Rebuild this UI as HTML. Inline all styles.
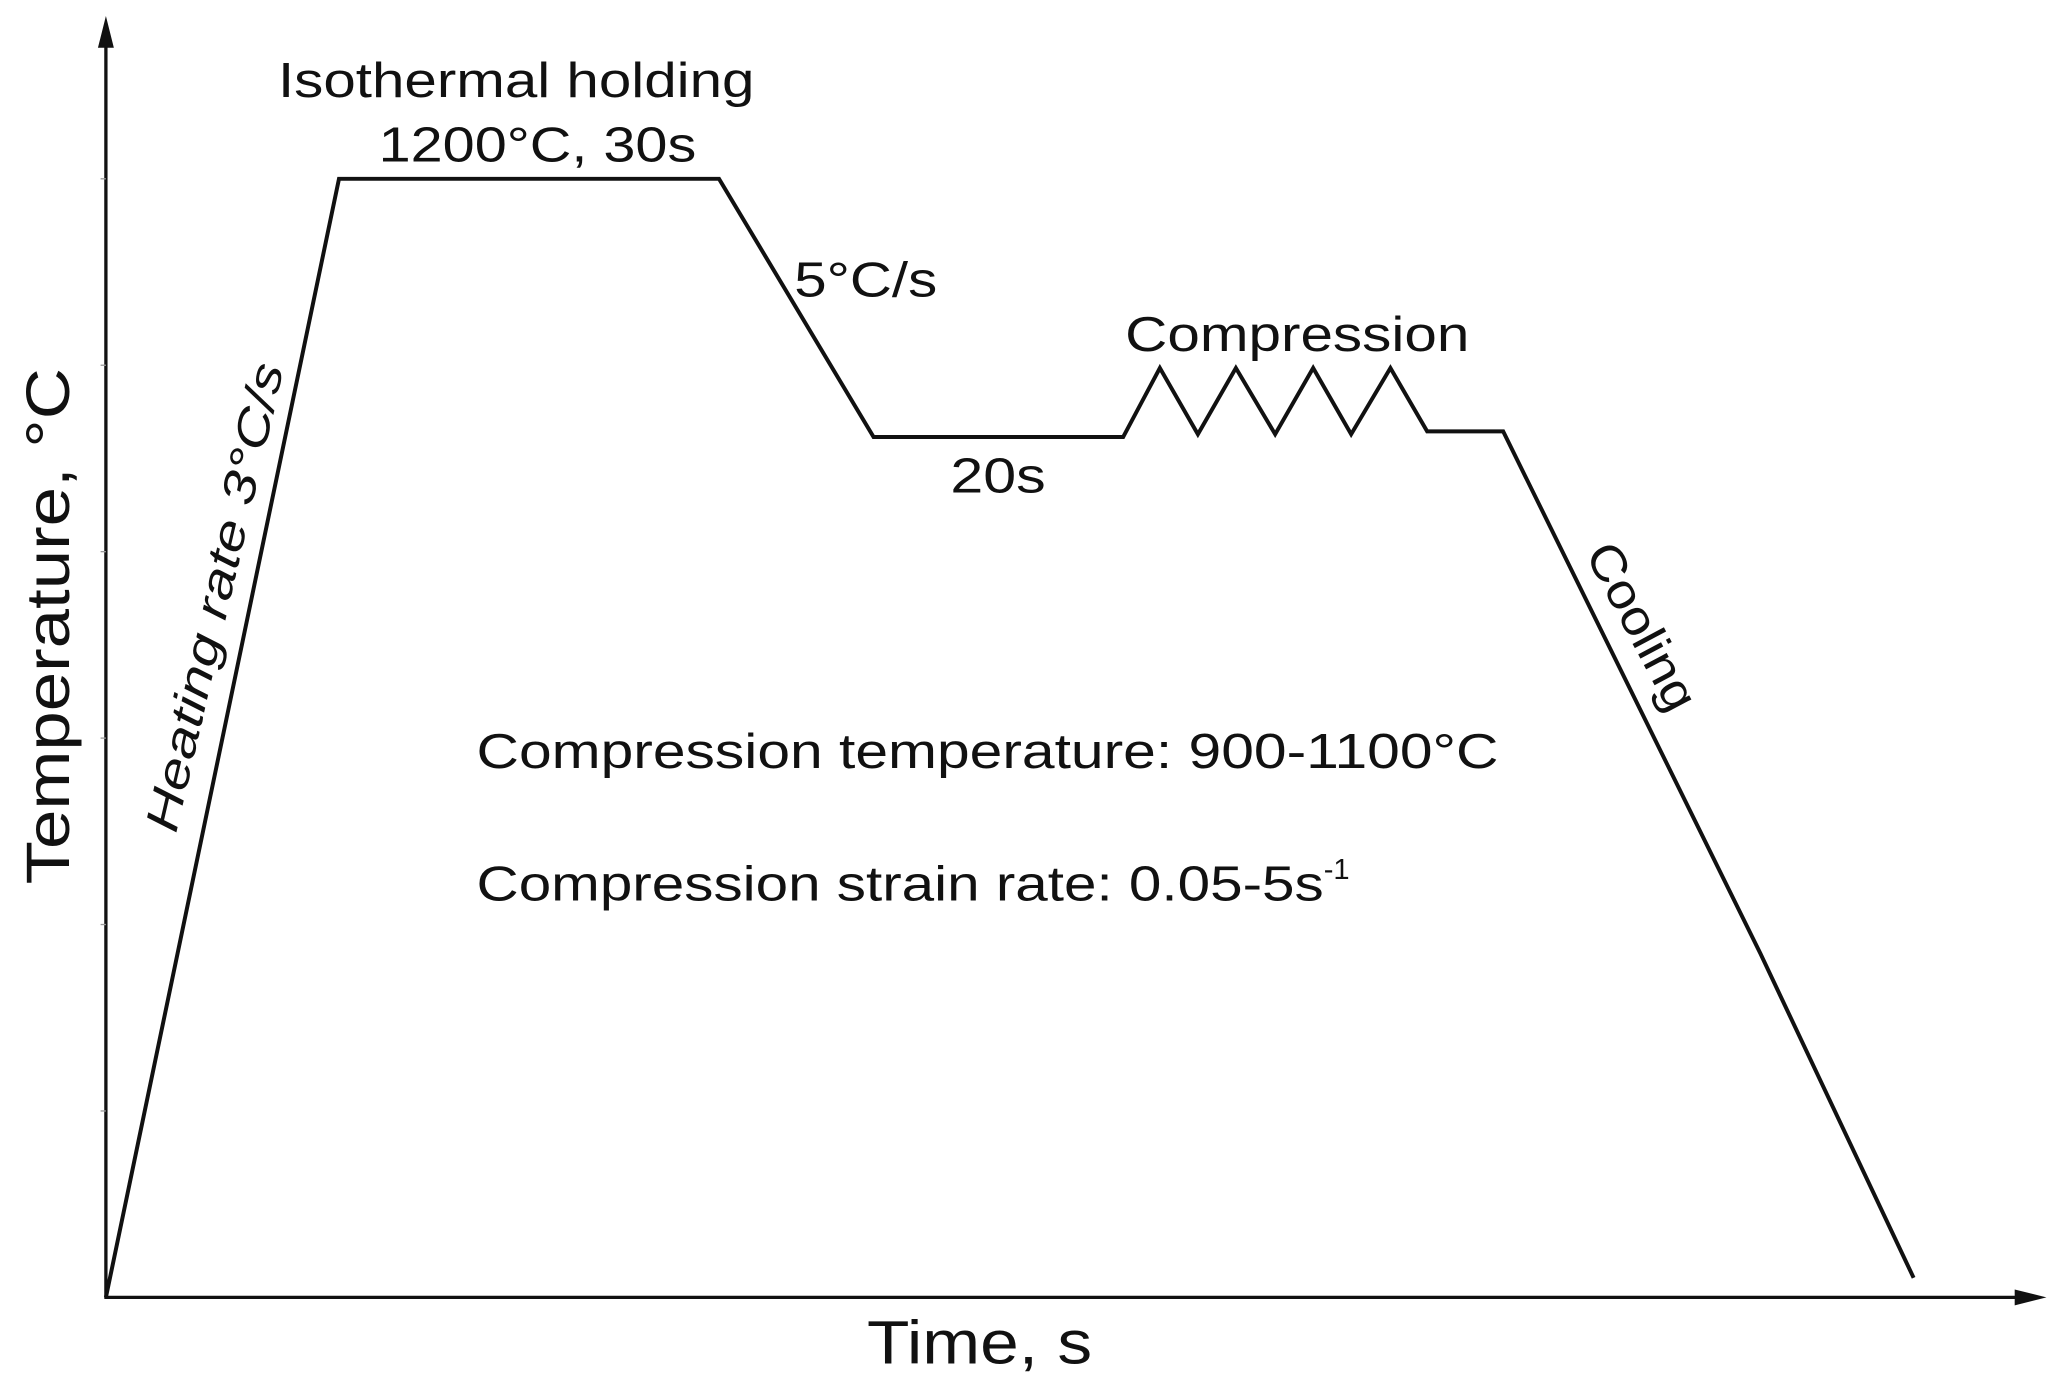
<!DOCTYPE html>
<html><head><meta charset="utf-8"><style>
html,body{margin:0;padding:0;background:#fff;}
svg{display:block;}
text{font-family:"Liberation Sans",Arial,sans-serif;fill:#111;}
</style></head><body>
<svg id="chart" width="2065" height="1373" viewBox="0 0 1560 1037" xmlns="http://www.w3.org/2000/svg">
<g id="axes">
<line x1="80" y1="981" x2="80" y2="30" stroke="#111" stroke-width="2.5"/>
<polygon points="80,12 74,36 86,36" fill="#111"/>
<line x1="79" y1="980" x2="1530" y2="980" stroke="#111" stroke-width="2.5"/>
<polygon points="1546,980 1522,974 1522,986" fill="#111"/>
</g>
<g id="ticks"></g>
<polyline id="profile" fill="none" stroke="#111" stroke-width="3" stroke-linejoin="miter"/>
<text x="210" y="73" font-size="37" textLength="360" lengthAdjust="spacingAndGlyphs">Isothermal holding</text>
<text x="286" y="122" font-size="37" textLength="240" lengthAdjust="spacingAndGlyphs">1200°C, 30s</text>
<text x="600" y="224" font-size="37" textLength="108" lengthAdjust="spacingAndGlyphs">5°C/s</text>
<text x="850" y="265" font-size="37" textLength="260" lengthAdjust="spacingAndGlyphs">Compression</text>
<text x="718" y="372" font-size="37" textLength="72" lengthAdjust="spacingAndGlyphs">20s</text>
<text transform="translate(1197,418) rotate(62)" font-size="37" textLength="138" lengthAdjust="spacingAndGlyphs">Cooling</text>
<text transform="translate(133,630) rotate(-77)" font-size="35" font-style="italic" textLength="362" lengthAdjust="spacingAndGlyphs">Heating rate 3°C/s</text>
<text x="360" y="580" font-size="37" textLength="772" lengthAdjust="spacingAndGlyphs">Compression temperature: 900-1100°C</text>
<text x="360" y="680" font-size="37"><tspan textLength="640" lengthAdjust="spacingAndGlyphs">Compression strain rate: 0.05-5s</tspan><tspan font-size="22" dy="-16">-1</tspan></text>
<text transform="translate(52,668) rotate(-90)" font-size="46" textLength="390" lengthAdjust="spacingAndGlyphs">Temperature, °C</text>
<text x="655" y="1030" font-size="46" textLength="170" lengthAdjust="spacingAndGlyphs">Time, s</text>
</svg>
<script>
const times = [0, 18.4, 48.4, 60.6, 80.3, 83.2, 86.2, 89.2, 92.3, 95.3, 98.3, 101.4, 104.3, 110.3, 130.6, 142.7];
const temps = [0, 1200, 1200, 923, 923, 997, 926, 997, 926, 997, 926, 997, 929, 929, 369, 21];
const yTicks = [200, 400, 600, 800, 1000, 1200];
const xScale = t => 80 + t * 9.57;
const yScale = v => 980 - v * 0.7042;
const pl = document.getElementById('profile');
pl.setAttribute('points', times.map((t, i) => xScale(t) + ',' + yScale(temps[i])).join(' '));
const tg = document.getElementById('ticks');
yTicks.forEach(v => {
  const l = document.createElementNS('http://www.w3.org/2000/svg', 'line');
  
  
  l.setAttribute('x1', 76); l.setAttribute('x2', 80);
  l.setAttribute('y1', yScale(v)); l.setAttribute('y2', yScale(v));
  l.setAttribute('stroke', '#999'); l.setAttribute('stroke-width', '1');
  tg.appendChild(l);
});
</script>
</body></html>
